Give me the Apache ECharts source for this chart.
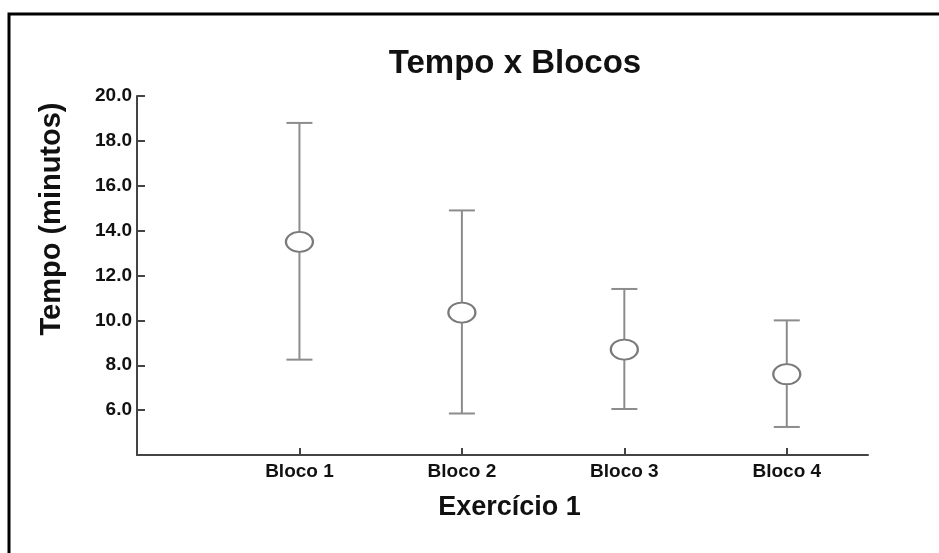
<!DOCTYPE html>
<html>
<head>
<meta charset="utf-8">
<script src="https://cdn.jsdelivr.net/npm/echarts@6/dist/echarts.min.js"></script>
<style>
  html, body { margin: 0; padding: 0; background: #fff; }
  #main { width: 939px; height: 553px; }
</style>
</head>
<body>
<div id="main"></div>
<script>
var categories = ['Bloco 1', 'Bloco 2', 'Bloco 3', 'Bloco 4']
var means = [13.5, 10.35, 8.7, 7.6]
var upper = [18.8, 14.9, 11.4, 10.0]
var lower = [8.25, 5.85, 6.05, 5.25]
var yTicks = [6, 8, 10, 12, 14, 16, 18, 20]

var font = 'Liberation Sans, Arial, Helvetica, sans-serif'
var barColor = '#8c8c8c'

var chart = echarts.init(document.getElementById('main'))

var catPos = categories.map(function (c, i) {
  return i + 1
})
var errData = categories.map(function (c, i) {
  return [i + 1, lower[i], upper[i]]
})
var meanData = categories.map(function (c, i) {
  return [i + 1, means[i]]
})

var option = {
  animation: false,
  backgroundColor: '#fff',
  title: {
    text: 'Tempo x Blocos',
    left: 510,
    top: 42,
    textAlign: 'center',
    textStyle: {
      fontFamily: font,
      fontWeight: 'bold',
      fontSize: 33,
      color: '#111',
    },
  },
  grid: {
    left: 137,
    right: 71,
    top: 96,
    bottom: 98,
  },
  xAxis: {
    type: 'value',
    min: 0,
    max: 4.5,
    interval: 1,
    name: 'Exercício 1',
    nameLocation: 'middle',
    nameGap: 39,
    nameTextStyle: {
      fontFamily: font,
      fontWeight: 'bold',
      fontSize: 27,
      color: '#111',
      padding: [0, 0, 0, 14],
    },
    splitLine: { show: false },
    axisLine: {
      lineStyle: { color: '#444', width: 2 },
    },
    axisTick: {
      inside: true,
      length: 7,
      customValues: catPos,
      lineStyle: { color: '#444', width: 2 },
    },
    axisLabel: {
      margin: 7,
      fontFamily: font,
      fontWeight: 'bold',
      fontSize: 19,
      color: '#111',
      customValues: catPos,
      formatter: function (v) {
        return categories[v - 1] || ''
      },
    },
  },
  yAxis: {
    type: 'value',
    min: 4,
    max: 20,
    interval: 2,
    splitLine: { show: false },
    axisLine: {
      show: true,
      lineStyle: { color: '#444', width: 2 },
    },
    axisTick: {
      inside: true,
      length: 8,
      customValues: yTicks,
      lineStyle: { color: '#444', width: 2 },
    },
    axisLabel: {
      margin: 5,
      fontFamily: font,
      fontWeight: 'bold',
      fontSize: 19,
      color: '#111',
      customValues: yTicks,
      formatter: function (v) {
        return v.toFixed(1)
      },
    },
  },
  graphic: [
    {
      type: 'rect',
      shape: { x: 9, y: 14, width: 960, height: 560 },
      style: { fill: 'none', stroke: '#000', lineWidth: 3 },
      silent: true,
    },
    {
      type: 'text',
      x: 52,
      y: 219,
      rotation: Math.PI / 2,
      style: {
        text: 'Tempo (minutos)',
        fontFamily: font,
        fontWeight: 'bold',
        fontSize: 29,
        fill: '#111',
        textAlign: 'center',
        textVerticalAlign: 'middle',
      },
    },
  ],
  series: [
    {
      type: 'custom',
      data: errData,
      z: 2,
      renderItem: function (params, api) {
        var x = api.value(0)
        var lo = api.coord([x, api.value(1)])
        var hi = api.coord([x, api.value(2)])
        var half = 13
        var style = { stroke: barColor, lineWidth: 2 }
        return {
          type: 'group',
          children: [
            { type: 'line', shape: { x1: lo[0], y1: lo[1], x2: hi[0], y2: hi[1] }, style: style },
            { type: 'line', shape: { x1: hi[0] - half, y1: hi[1], x2: hi[0] + half, y2: hi[1] }, style: style },
            { type: 'line', shape: { x1: lo[0] - half, y1: lo[1], x2: lo[0] + half, y2: lo[1] }, style: style },
          ],
        }
      },
    },
    {
      type: 'scatter',
      data: meanData,
      z: 3,
      symbol: 'circle',
      symbolSize: [27, 20],
      itemStyle: {
        color: '#fff',
        borderColor: '#7a7a7a',
        borderWidth: 2,
        opacity: 1,
      },
    },
  ],
}

chart.setOption(option)
</script>
</body>
</html>
